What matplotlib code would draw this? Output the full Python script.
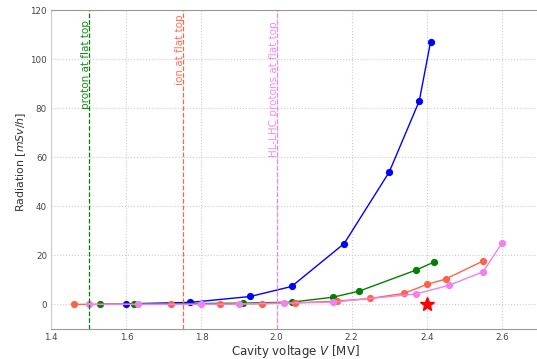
import matplotlib
matplotlib.use("Agg")
import matplotlib.pyplot as plt

# Data
blue_v = [1.60, 1.77, 1.93, 2.04, 2.18, 2.30, 2.38, 2.41]
blue_r = [0.2, 0.8, 3.2, 7.3, 24.8, 54.0, 83.0, 107.0]

green_v = [1.53, 1.62, 1.91, 2.04, 2.15, 2.22, 2.37, 2.42]
green_r = [0.1, 0.1, 0.5, 0.9, 2.9, 5.4, 13.9, 17.3]

red_v = [1.46, 1.72, 1.85, 1.96, 2.05, 2.16, 2.25, 2.34, 2.40, 2.45, 2.55]
red_r = [0.0, 0.0, 0.1, 0.3, 0.6, 1.3, 2.4, 4.5, 8.1, 10.3, 17.7]

violet_v = [1.50, 1.63, 1.80, 1.90, 2.02, 2.15, 2.37, 2.46, 2.55, 2.60]
violet_r = [0.0, 0.0, 0.0, 0.1, 0.5, 0.9, 4.2, 7.8, 13.3, 24.9]

star_v = [2.40]
star_r = [0.0]

vline_x = [1.5, 1.75, 2.0]
vline_labels = ["proton at flat top", "ion at flat top", "HL-LHC protons at flat top"]
vline_colors = ["green", "tomato", "violet"]
vline_label_y = [115.8, 118.4, 115.4]

fig = plt.figure(figsize=(5.37, 3.59), dpi=100)
ax = fig.add_axes([0.0955, 0.084, 0.909, 0.8873])

ax.plot(blue_v, blue_r, '-o', color='blue', lw=1, ms=4.2)
ax.plot(green_v, green_r, '-o', color='green', lw=1, ms=4.2)
ax.plot(red_v, red_r, '-o', color='tomato', lw=1, ms=4.2)
ax.plot(violet_v, violet_r, '-o', color='violet', lw=1, ms=4.2)
ax.plot(star_v, star_r, '*', color='red', ms=10)

for x, lab, c, ty in zip(vline_x, vline_labels, vline_colors, vline_label_y):
    ax.axvline(x, color=c, ls='--', lw=0.9)
    ax.text(x, ty, lab, rotation=90, color=c, ha='right', va='baseline',
            rotation_mode='anchor', fontsize=7.5, alpha=0.9)

ax.set_xlim(1.4, 2.7)
ax.set_ylim(-10, 120)
ax.set_xticks([1.4, 1.6, 1.8, 2.0, 2.2, 2.4, 2.6])
ax.set_yticks([0, 20, 40, 60, 80, 100, 120])
ax.grid(True, ls=':', color='#cccccc', lw=0.8)
ax.set_axisbelow(True)
ax.spines['left'].set_color('#cccccc')
ax.spines['bottom'].set_color('#999999')
ax.spines['top'].set_color('#999999')
ax.spines['right'].set_visible(False)
ax.tick_params(labelsize=6.3, colors='#444444', length=0, pad=3)
ax.set_xlabel('Cavity voltage $V$ [MV]', fontsize=8.5, color='#333333', labelpad=1)
ax.set_ylabel('Radiation [$mSv/h$]', fontsize=7.9, color='#333333')
ax.yaxis.set_label_coords(-0.048, 0.525)

fig.savefig('out.png', dpi=100)
